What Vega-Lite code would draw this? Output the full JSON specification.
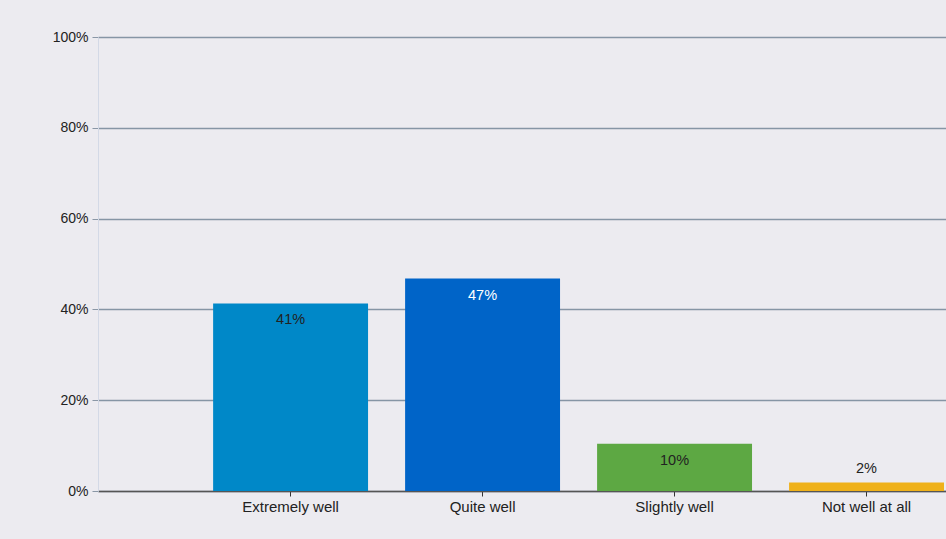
{
  "$schema": "https://vega.github.io/schema/vega-lite/v6.json",
  "width": 848,
  "height": 454,
  "autosize": {"type": "none"},
  "padding": {"left": 98, "top": 37, "right": 0, "bottom": 48},
  "background": "#ECEBF0",
  "config": {
    "view": {"stroke": null},
    "font": "Liberation Sans",
    "axis": {"labelFont": "Liberation Sans", "labelFontSize": 14, "labelColor": "#222222", "title": null}
  },
  "data": {
    "values": [
      {"category": "Extremely well", "value": 0.413},
      {"category": "Quite well", "value": 0.468},
      {"category": "Slightly well", "value": 0.104},
      {"category": "Not well at all", "value": 0.0185}
    ]
  },
  "encoding": {
    "x": {
      "field": "category",
      "type": "nominal",
      "sort": null,
      "scale": {"paddingInner": 0.193, "paddingOuter": 0.305, "align": 0.983},
      "axis": {
        "labelAngle": 0,
        "labelFontSize": 15,
        "domainColor": "#555555",
        "domainWidth": 1.5,
        "tickColor": "#333333",
        "tickSize": 5,
        "labelPadding": 3,
        "grid": false
      }
    },
    "y": {
      "field": "value",
      "type": "quantitative",
      "scale": {"domain": [0, 1]},
      "axis": {
        "format": ".0%",
        "values": [0, 0.2, 0.4, 0.6, 0.8, 1],
        "grid": true,
        "gridColor": "#8695A5",
        "gridWidth": 1.6,
        "domainColor": "#D3D9E6",
        "domainWidth": 1,
        "tickColor": "#8A97A6",
        "tickSize": 6,
        "labelPadding": 4
      }
    }
  },
  "layer": [
    {
      "mark": {"type": "bar"},
      "encoding": {
        "color": {
          "field": "category",
          "type": "nominal",
          "scale": {
            "domain": ["Extremely well", "Quite well", "Slightly well", "Not well at all"],
            "range": ["#0088C8", "#0064C8", "#5DA843", "#EFB11A"]
          },
          "legend": null
        }
      }
    },
    {
      "transform": [{"filter": "datum.value >= 0.05"}],
      "mark": {"type": "text", "baseline": "middle", "dy": 17, "fontSize": 14.5, "font": "Liberation Sans"},
      "encoding": {
        "text": {"field": "value", "type": "quantitative", "format": ".0%"},
        "color": {
          "condition": {"test": "datum.category === 'Quite well'", "value": "#FFFFFF"},
          "value": "#222222"
        }
      }
    },
    {
      "transform": [{"filter": "datum.value < 0.05"}],
      "mark": {"type": "text", "baseline": "middle", "dy": -14, "fontSize": 14.5, "font": "Liberation Sans", "color": "#222222"},
      "encoding": {
        "text": {"field": "value", "type": "quantitative", "format": ".0%"}
      }
    }
  ]
}
